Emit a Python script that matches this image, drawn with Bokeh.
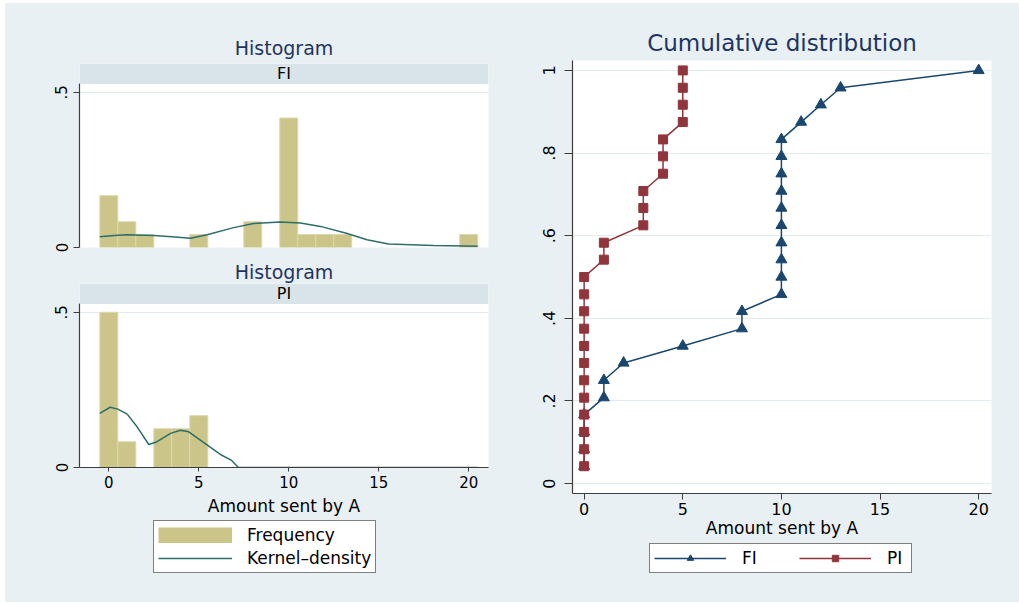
from bokeh.plotting import figure
from bokeh.models import (Range1d, FixedTicker, Legend, LegendItem, BoxAnnotation,
                          Label, Spacer)
from bokeh.layouts import row, column
from bokeh.embed import file_html
from bokeh.resources import INLINE

# ---------------- data ----------------
amounts_fi = [0, 1, 2, 5, 8, 10, 11, 12, 13, 20]
density_fi = [0.167, 0.083, 0.042, 0.042, 0.083, 0.417, 0.042, 0.042, 0.042, 0.042]

amounts_pi = [0, 1, 3, 4, 5]
density_pi = [0.5, 0.083, 0.125, 0.125, 0.167]

kde_fi_x = [-0.5, 0.3, 1.0, 2.5, 3.5, 4.54, 5.46, 6.94, 8.04, 9.5, 10.65, 11.76, 13.2, 14.35, 15.55, 18.05, 20.5]
kde_fi_y = [0.035, 0.039, 0.041, 0.039, 0.035, 0.030, 0.041, 0.064, 0.077, 0.082, 0.079, 0.068, 0.046, 0.025, 0.011, 0.0064, 0.0043]

kde_pi_x = [-0.5, 0.07, 0.5, 1.02, 1.57, 2.22, 2.68, 3.43, 3.98, 4.44, 5.28, 6.2, 6.8, 7.2, 20.5]
kde_pi_y = [0.174, 0.194, 0.188, 0.172, 0.131, 0.074, 0.083, 0.110, 0.120, 0.115, 0.080, 0.042, 0.024, 0.0, 0.0]

cdf_fi_x = [0, 0, 0, 0, 1, 1, 2, 5, 8, 8, 10, 10, 10, 10, 10, 10, 10, 10, 10, 10, 11, 12, 13, 20]
cdf_fi_y = [0.042, 0.083, 0.125, 0.167, 0.208, 0.25, 0.292, 0.333, 0.375, 0.417, 0.458, 0.5,
            0.542, 0.583, 0.625, 0.667, 0.708, 0.75, 0.792, 0.833, 0.875, 0.917, 0.958, 1.0]
cdf_pi_x = [0, 0, 0, 0, 0, 0, 0, 0, 0, 0, 0, 0, 1, 1, 3, 3, 3, 4, 4, 4, 5, 5, 5, 5]
cdf_pi_y = [0.042, 0.083, 0.125, 0.167, 0.208, 0.25, 0.292, 0.333, 0.375, 0.417, 0.458, 0.5,
            0.542, 0.583, 0.625, 0.667, 0.708, 0.75, 0.792, 0.833, 0.875, 0.917, 0.958, 1.0]

x_ticks = [0, 5, 10, 15, 20]
hist_y_ticks = [0, 0.5]
hist_y_labels = {0: "0", 0.5: ".5"}
cdf_y_ticks = [0, 0.2, 0.4, 0.6, 0.8, 1.0]
cdf_y_labels = {0: "0", 0.2: ".2", 0.4: ".4", 0.6: ".6", 0.8: ".8", 1.0: "1"}

# ---------------- styles ----------------
BG = "#e8f0f3"
STRIP = "#d8e4ea"
TITLE_C = "#1e3560"
BAR_FILL = "#ccc58a"
BAR_LINE = "#ddd8ae"
KDE_C = "#2c6e68"
FI_C = "#1a476f"
PI_C = "#90353b"
AX_C = "#3d3d3d"
GRID_C = "#e4ecef"
FONT = "DejaVu Sans"

HIST_X0, HIST_X1 = -1.63, 21.1
HIST_YTOP = 0.5926
STRIP_BOTTOM = 0.5266


def style_axes(p, tick_font, tick_out_x, tick_out_y):
    for ax in (p.xaxis[0], p.yaxis[0]):
        ax.axis_line_color = AX_C
        ax.axis_line_width = 1.2
        ax.major_tick_line_color = AX_C
        ax.major_tick_in = 0
        ax.minor_tick_line_color = None
        ax.major_label_text_font = FONT
        ax.major_label_text_font_size = tick_font
        ax.major_label_text_color = "black"
        ax.axis_label_text_font = FONT
        ax.axis_label_text_font_size = "17px"
        ax.axis_label_text_font_style = "normal"
        ax.axis_label_text_color = "black"
    p.xaxis[0].major_tick_out = tick_out_x
    p.yaxis[0].major_tick_out = tick_out_y
    p.yaxis[0].major_label_orientation = "vertical"
    p.xgrid.visible = False
    p.ygrid.grid_line_color = GRID_C
    p.ygrid.grid_line_width = 1


def style_title(p, size, standoff):
    p.title.align = "center"
    p.title.text_font = FONT
    p.title.text_font_size = size
    p.title.text_font_style = "normal"
    p.title.text_color = TITLE_C
    p.title.standoff = standoff


def hist_fig(panel, amounts, dens, kx, ky, height, top, bottom, show_x, standoff):
    p = figure(width=505, height=height, title="Histogram",
               x_range=Range1d(HIST_X0, HIST_X1), y_range=Range1d(0, HIST_YTOP),
               output_backend="svg", toolbar_location=None,
               min_border_left=74, min_border_right=22,
               min_border_top=top, min_border_bottom=bottom,
               background_fill_color="white", border_fill_color=BG,
               outline_line_color=None)
    style_title(p, "19px", standoff)
    p.vbar(x=amounts, top=dens, width=1.0, bottom=0,
           fill_color=BAR_FILL, line_color=BAR_LINE, line_width=1)
    p.line(kx, ky, line_color=KDE_C, line_width=1.5)
    style_axes(p, "15px", 4, 6)
    p.yaxis.ticker = FixedTicker(ticks=hist_y_ticks)
    p.yaxis.major_label_overrides = hist_y_labels
    p.yaxis.bounds = (0, STRIP_BOTTOM)
    p.yaxis.major_label_standoff = 6
    p.xaxis.ticker = FixedTicker(ticks=x_ticks)
    p.xaxis.major_label_standoff = 4
    if show_x:
        p.xaxis.axis_label = "Amount sent by A"
        p.xaxis.axis_label_standoff = 5
    else:
        p.xaxis.visible = False
    strip = BoxAnnotation(bottom=STRIP_BOTTOM, fill_color=STRIP, fill_alpha=1.0,
                          line_color=None)
    p.add_layout(strip)
    p.add_layout(Label(x=(HIST_X0 + HIST_X1) / 2, y=(STRIP_BOTTOM + HIST_YTOP) / 2,
                       text=panel, text_align="center", text_baseline="middle",
                       text_font=FONT, text_font_size="16px", text_color="black"))
    return p


def legend_fig(width, height):
    f = figure(width=width, height=height, output_backend="svg", toolbar_location=None,
               x_range=Range1d(0, 1), y_range=Range1d(0, 1),
               x_axis_location=None, y_axis_location=None, min_border=0,
               border_fill_color=BG, background_fill_color=BG, outline_line_color=None)
    f.grid.visible = False
    return f


def legend_box(items, location, orientation, glyph_width, label_standoff, spacing, padding):
    return Legend(items=items, location=location, orientation=orientation,
                  border_line_color="black", border_line_width=1.2,
                  background_fill_color="white", background_fill_alpha=1.0,
                  label_text_font=FONT, label_text_font_size="17px",
                  label_text_color="black",
                  glyph_width=glyph_width, glyph_height=16, label_standoff=label_standoff,
                  spacing=spacing, padding=padding, margin=0, click_policy="none",
                  inactive_fill_alpha=0.0)


p1 = hist_fig("FI", amounts_fi, density_fi, kde_fi_x, kde_fi_y, 254, 60, 10, False, 9)
p2 = hist_fig("PI", amounts_pi, density_pi, kde_pi_x, kde_pi_y, 262, 26, 52, True, 2)

# legend of the histograms: keys are hidden copies of the PI series
lf1 = legend_fig(505, 83)
key_bar = lf1.vbar(x=amounts_pi, top=density_pi, width=1.0, bottom=0,
                   fill_color=BAR_FILL, line_color=BAR_LINE, visible=False)
key_block = lf1.line(x=amounts_pi, y=density_pi, line_color=BAR_FILL, line_width=16,
                     line_cap="butt", visible=False)
key_kde = lf1.line(x=kde_pi_x, y=kde_pi_y, line_color=KDE_C, line_width=1.5, visible=False)
lf1.add_layout(legend_box([LegendItem(label="Frequency", renderers=[key_bar, key_block]),
                           LegendItem(label="Kernel\u2013density", renderers=[key_kde])],
                          (74, 29), "vertical", 74, 15, 3, 4))

# ---------------- cumulative distribution ----------------
p3 = figure(width=509, height=539, title="Cumulative distribution",
            x_range=Range1d(-0.59, 20.65), y_range=Range1d(-0.024, 1.024),
            output_backend="svg", toolbar_location=None,
            min_border_left=62, min_border_right=28,
            min_border_top=57, min_border_bottom=49,
            background_fill_color="white", border_fill_color=BG,
            outline_line_color=None)
style_title(p3, "23px", 9)
p3.line(cdf_fi_x, cdf_fi_y, line_color=FI_C, line_width=1.5)
p3.scatter(cdf_fi_x, cdf_fi_y, marker="triangle", size=11, fill_color=FI_C, line_color=FI_C)
p3.line(cdf_pi_x, cdf_pi_y, line_color=PI_C, line_width=1.5)
p3.scatter(cdf_pi_x, cdf_pi_y, marker="square", size=9, fill_color=PI_C, line_color=PI_C)
style_axes(p3, "16px", 6, 8)
p3.xaxis.ticker = FixedTicker(ticks=x_ticks)
p3.xaxis.axis_label = "Amount sent by A"
p3.xaxis.major_label_standoff = 3
p3.xaxis.axis_label_standoff = 0
p3.yaxis.ticker = FixedTicker(ticks=cdf_y_ticks)
p3.yaxis.major_label_overrides = cdf_y_labels
p3.yaxis.major_label_standoff = 9

lf2 = legend_fig(509, 60)
k_fi_l = lf2.line(x=cdf_fi_x, y=cdf_fi_y, line_color=FI_C, line_width=1.5, visible=False)
k_fi_m = lf2.scatter(x=cdf_fi_x, y=cdf_fi_y, marker="triangle", size=11,
                     fill_color=FI_C, line_color=FI_C, visible=False)
k_pi_l = lf2.line(x=cdf_pi_x, y=cdf_pi_y, line_color=PI_C, line_width=1.5, visible=False)
k_pi_m = lf2.scatter(x=cdf_pi_x, y=cdf_pi_y, marker="square", size=9,
                     fill_color=PI_C, line_color=PI_C, visible=False)
lf2.add_layout(legend_box([LegendItem(label="FI", renderers=[k_fi_l, k_fi_m]),
                           LegendItem(label="PI", renderers=[k_pi_l, k_pi_m])],
                          (77, 29), "horizontal", 72, 16, 37, 4))

inner = row(column(p1, p2, lf1, styles={"background-color": BG}),
            column(p3, lf2, styles={"background-color": BG}),
            styles={"background-color": BG})
layout = column(Spacer(height=3), row(Spacer(width=5), inner))

open("out.html", "w").write(file_html(layout, INLINE))
